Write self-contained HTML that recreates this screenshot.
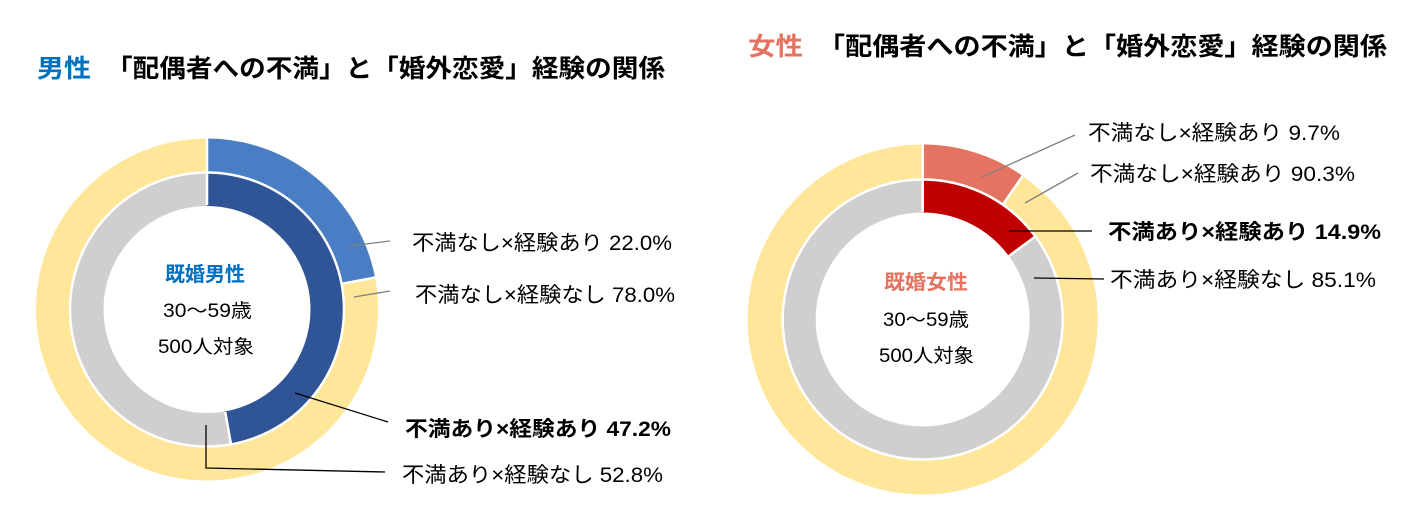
<!DOCTYPE html>
<html><head><meta charset="utf-8"><style>
html,body{margin:0;padding:0;background:#fff;}
svg text{font-family:"Liberation Sans","Noto Sans CJK JP",sans-serif;}
</style></head><body>
<svg width="1425" height="527" viewBox="0 0 1425 527" xmlns="http://www.w3.org/2000/svg">
<rect width="1425" height="527" fill="#fff"/>
<!-- Titles -->
<text x="37" y="77" font-size="25" font-weight="bold" fill="#0070C0" textLength="54" lengthAdjust="spacingAndGlyphs">男性</text>
<text x="106" y="77" font-size="25" font-weight="bold" fill="#000" textLength="559" lengthAdjust="spacingAndGlyphs">「配偶者への不満」と「婚外恋愛」経験の関係</text>
<text x="748" y="55" font-size="25" font-weight="bold" fill="#E57361" textLength="55" lengthAdjust="spacingAndGlyphs">女性</text>
<text x="818" y="55" font-size="25" font-weight="bold" fill="#000" textLength="569" lengthAdjust="spacingAndGlyphs">「配偶者への不満」と「婚外恋愛」経験の関係</text>

<!-- Left donut -->
<g>
<circle cx="207" cy="309.5" r="154" fill="none" stroke="#FFE699" stroke-width="34"/>
<circle cx="207" cy="309.5" r="154" fill="none" stroke="#4A7EC4" stroke-width="34" stroke-dasharray="212.87 967.61" transform="rotate(-90 207 309.5)"/>
<circle cx="207" cy="309.5" r="120" fill="none" stroke="#D0CECE" stroke-width="33"/>
<circle cx="207" cy="309.5" r="120" fill="none" stroke="#2F5597" stroke-width="33" stroke-dasharray="355.88 753.98" transform="rotate(-90 207 309.5)"/>
<circle cx="207" cy="309.5" r="137" fill="none" stroke="#fff" stroke-width="2.5"/>
<line x1="207" y1="137" x2="207" y2="205" stroke="#fff" stroke-width="2.5"/>
<line x1="341.6" y1="283.8" x2="376" y2="277.3" stroke="#fff" stroke-width="2.5"/>
<line x1="225.2" y1="411.9" x2="231" y2="444.4" stroke="#fff" stroke-width="2.5"/>
</g>
<text x="165" y="281" font-size="20" font-weight="bold" fill="#0070C0" textLength="80" lengthAdjust="spacingAndGlyphs">既婚男性</text>
<text x="163" y="317" font-size="19" fill="#000" textLength="89" lengthAdjust="spacingAndGlyphs">30〜59歳</text>
<text x="158" y="353" font-size="19" fill="#000" textLength="96" lengthAdjust="spacingAndGlyphs">500人対象</text>

<g stroke-width="1.3" fill="none">
<polyline points="349,246 390,241" stroke="#808080"/>
<polyline points="354,297 390,291" stroke="#808080"/>
<polyline points="295,393 388,422" stroke="#000"/>
<polyline points="206,425 206,468 385,472" stroke="#000"/>
</g>
<g font-size="21" fill="#000" lengthAdjust="spacingAndGlyphs">
<text x="412" y="250" textLength="260" lengthAdjust="spacingAndGlyphs">不満なし×経験あり 22.0%</text>
<text x="415" y="302" textLength="260" lengthAdjust="spacingAndGlyphs">不満なし×経験なし 78.0%</text>
<text x="405" y="436" font-weight="bold" textLength="266" lengthAdjust="spacingAndGlyphs">不満あり×経験あり 47.2%</text>
<text x="402" y="482" textLength="261" lengthAdjust="spacingAndGlyphs">不満あり×経験なし 52.8%</text>
</g>

<!-- Right donut -->
<g>
<circle cx="922.7" cy="319.5" r="157.5" fill="none" stroke="#FFE699" stroke-width="35"/>
<circle cx="922.7" cy="319.5" r="157.5" fill="none" stroke="#E57361" stroke-width="35" stroke-dasharray="95.99 989.6" transform="rotate(-90 922.7 319.5)"/>
<circle cx="922.7" cy="319.5" r="123.5" fill="none" stroke="#D0CECE" stroke-width="33"/>
<circle cx="922.7" cy="319.5" r="123.5" fill="none" stroke="#C00000" stroke-width="33" stroke-dasharray="115.62 775.97" transform="rotate(-90 922.7 319.5)"/>
<circle cx="922.7" cy="319.5" r="140" fill="none" stroke="#fff" stroke-width="2.5"/>
<line x1="922.7" y1="144" x2="922.7" y2="212" stroke="#fff" stroke-width="2.5"/>
<line x1="1002.3" y1="205.5" x2="1023" y2="175.5" stroke="#fff" stroke-width="2.5"/>
<line x1="1008.9" y1="256.1" x2="1035.4" y2="236.5" stroke="#fff" stroke-width="2.5"/>
</g>
<text x="884" y="289" font-size="20" font-weight="bold" fill="#E57361" textLength="84" lengthAdjust="spacingAndGlyphs">既婚女性</text>
<text x="883" y="326" font-size="19" fill="#000" textLength="86" lengthAdjust="spacingAndGlyphs">30〜59歳</text>
<text x="879" y="362" font-size="19" fill="#000" textLength="95" lengthAdjust="spacingAndGlyphs">500人対象</text>

<g stroke-width="1.3" fill="none">
<polyline points="982,177 1075,135" stroke="#808080"/>
<polyline points="1025,203 1078,173" stroke="#808080"/>
<polyline points="1009,231 1092,231" stroke="#000"/>
<polyline points="1034,278 1104,279" stroke="#000"/>
</g>
<g font-size="21" fill="#000">
<text x="1088" y="140" textLength="252" lengthAdjust="spacingAndGlyphs">不満なし×経験あり 9.7%</text>
<text x="1090" y="181" textLength="265" lengthAdjust="spacingAndGlyphs">不満なし×経験あり 90.3%</text>
<text x="1108" y="239" font-weight="bold" textLength="273" lengthAdjust="spacingAndGlyphs">不満あり×経験あり 14.9%</text>
<text x="1110" y="287" textLength="266" lengthAdjust="spacingAndGlyphs">不満あり×経験なし 85.1%</text>
</g>
</svg>
</body></html>
